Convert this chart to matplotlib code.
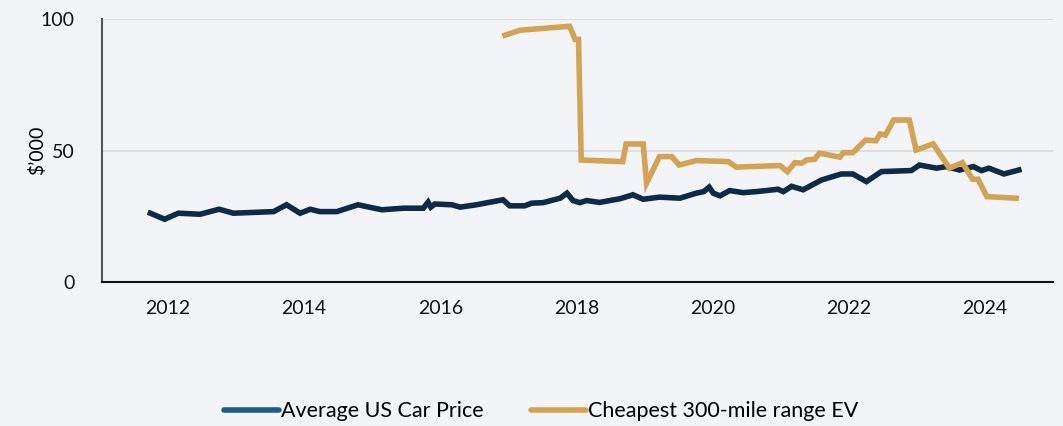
import matplotlib
matplotlib.use("Agg")
import matplotlib.pyplot as plt
from matplotlib.lines import Line2D

# Average US car price ($'000)
car_years = [2011.74, 2011.95, 2012.15, 2012.47, 2012.75, 2012.96, 2013.55, 2013.74,
             2013.94, 2014.09, 2014.23, 2014.48, 2014.79, 2015.14, 2015.46, 2015.75,
             2015.82, 2015.86, 2015.92, 2016.17, 2016.29, 2016.53, 2016.92, 2017.02,
             2017.24, 2017.34, 2017.51, 2017.76, 2017.86, 2017.95, 2018.05, 2018.15,
             2018.34, 2018.64, 2018.83, 2018.98, 2019.22, 2019.52, 2019.76, 2019.87,
             2019.95, 2020.01, 2020.11, 2020.25, 2020.45, 2020.64, 2020.79, 2020.96,
             2021.04, 2021.16, 2021.33, 2021.60, 2021.89, 2022.06, 2022.26, 2022.48,
             2022.92, 2023.04, 2023.29, 2023.43, 2023.63, 2023.83, 2023.95, 2024.06,
             2024.28, 2024.50]
car_price = [26.3, 24.0, 26.3, 25.9, 27.8, 26.3, 26.9, 29.5,
             26.3, 27.8, 26.9, 26.9, 29.5, 27.6, 28.2, 28.2,
             30.5, 28.6, 29.8, 29.5, 28.6, 29.5, 31.4, 29.1,
             29.1, 30.1, 30.3, 32.0, 33.9, 31.1, 30.3, 31.1,
             30.4, 31.8, 33.3, 31.6, 32.4, 32.0, 33.9, 34.5,
             36.2, 33.9, 32.9, 34.9, 34.1, 34.5, 34.9, 35.4,
             34.5, 36.5, 35.2, 38.9, 41.2, 41.2, 38.3, 42.1,
             42.5, 44.6, 43.4, 44.0, 42.7, 44.0, 42.5, 43.4,
             41.2, 42.7]

# Cheapest 300-mile range EV ($'000)
ev_years = [2016.95, 2017.17, 2017.90, 2017.98, 2018.03, 2018.07, 2018.68, 2018.73,
            2018.98, 2019.03, 2019.22, 2019.40, 2019.51, 2019.76, 2020.23, 2020.35,
            2020.99, 2021.10, 2021.21, 2021.31, 2021.38, 2021.50, 2021.57, 2021.87,
            2021.92, 2022.06, 2022.25, 2022.40, 2022.46, 2022.54, 2022.66, 2022.89,
            2022.99, 2023.24, 2023.48, 2023.67, 2023.82, 2023.90, 2024.03, 2024.46]
ev_price = [93.9, 95.8, 97.3, 92.3, 92.3, 46.5, 45.9, 52.6,
            52.6, 37.7, 47.8, 47.8, 44.6, 46.3, 45.9, 43.8,
            44.4, 42.1, 45.5, 45.3, 46.5, 46.8, 49.1, 47.6,
            49.3, 49.3, 54.1, 53.8, 56.4, 56.0, 61.7, 61.7,
            50.3, 52.6, 43.4, 45.5, 39.2, 39.2, 32.6, 32.0]

year_ticks = [2012, 2014, 2016, 2018, 2020, 2022, 2024]

bg = "#f2f4f7"
navy = "#0e2a47"
gold = "#d2a255"

plt.rcParams["font.family"] = ["Lato", "DejaVu Sans"]

fig = plt.figure(figsize=(10.63, 4.26), dpi=100, facecolor=bg)
ax = fig.add_axes([0.096, 0.337, 0.8945, 0.618], facecolor=bg)

ax.plot(car_years, car_price, color=navy, lw=4, solid_joinstyle="miter", zorder=3)
ax.plot(ev_years, ev_price, color=gold, lw=4, solid_joinstyle="miter", zorder=3)

ax.set_xlim(2011.03, 2025.0)
ax.set_ylim(0, 100)
ax.set_xticks(year_ticks)
ax.set_xticklabels([str(y) for y in year_ticks])
ax.set_yticks([0, 50, 100])
ax.tick_params(axis="both", length=0, labelsize=14, colors="#111111")
ax.tick_params(axis="x", pad=13)
ax.tick_params(axis="y", pad=20)
ax.set_ylabel("$\u2019000", fontsize=14, labelpad=-4)

ax.yaxis.grid(True, color="#dcdde0", lw=1.5)
ax.set_axisbelow(True)
for side in ["top", "right"]:
    ax.spines[side].set_visible(False)
ax.spines["left"].set_color("#555555")
ax.spines["left"].set_linewidth(1.5)
ax.spines["bottom"].set_color("#111111")
ax.spines["bottom"].set_linewidth(1.5)

handles = [Line2D([], [], color="#1d5c85", lw=4, solid_capstyle="round"),
           Line2D([], [], color=gold, lw=4, solid_capstyle="round")]
fig.legend(handles, ["Average US Car Price", "Cheapest 300-mile range EV"],
           loc="center", bbox_to_anchor=(0.509, 0.035), ncol=2, frameon=False,
           fontsize=15.5, handlelength=2.55, handletextpad=0.1, columnspacing=2.2)

fig.savefig("out.png", dpi=100, facecolor=bg)
